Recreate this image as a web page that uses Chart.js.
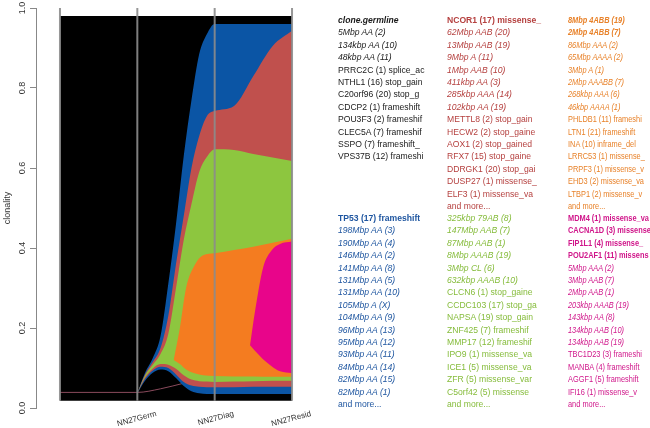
<!DOCTYPE html>
<html>
<head>
<meta charset="utf-8">
<script src="https://cdn.jsdelivr.net/npm/chart.js@4.4.1/dist/chart.umd.min.js"></script>
<style>
  html, body { margin: 0; padding: 0; background: #fff; }
  #wrap { position: relative; width: 650px; height: 428px; overflow: hidden; }
  #fish { position: absolute; left: 0; top: 0; }
  .col { position: absolute; font-family: "Liberation Sans", Arial, sans-serif; font-size: 8.6px; line-height: 12.4px; white-space: nowrap; transform-origin: left top; }
  .narrow { transform: scaleX(0.86); }
  .b { font-weight: bold; }
  .i { font-style: italic; }
</style>
</head>
<body>
<div id="wrap">
  <canvas id="fish" width="650" height="428"></canvas>
  <div id="legend"></div>
</div>
<script>
// sample time points
const timeTicks = [1, 2, 3];
const timeLabels = ["NN27Germ", "NN27Diag", "NN27Resid"];
const sampleLines = [0, 1, 2, 3];

// clone outlines, x in time units, y = clonality
const germX = [0, 3];
const germLow = [0.018, 0.018];
const germHigh = [0.98, 0.98];

const earlyX = [1, 1.1, 1.2, 1.3, 1.4, 1.5, 1.6, 1.7, 1.8, 1.9, 2, 2.25, 2.5, 2.75, 3];
const blueLow = [0.037, 0.068, 0.088, 0.096, 0.092, 0.075, 0.055, 0.042, 0.037, 0.035, 0.035, 0.035, 0.035, 0.035, 0.035];
const blueHigh = [0.037, 0.088, 0.125, 0.18, 0.31, 0.46, 0.63, 0.77, 0.885, 0.935, 0.96, 0.96, 0.96, 0.96, 0.96];
const redLow = [0.037, 0.073, 0.094, 0.103, 0.1, 0.084, 0.065, 0.056, 0.053, 0.052, 0.052, 0.052, 0.053, 0.053, 0.053];
const redHigh = [0.037, 0.084, 0.115, 0.15, 0.23, 0.36, 0.48, 0.6, 0.68, 0.73, 0.7425, 0.755, 0.83, 0.905, 0.943];
const greenLow = [0.037, 0.077, 0.099, 0.11, 0.108, 0.098, 0.082, 0.071, 0.067, 0.066, 0.065, 0.066, 0.067, 0.068, 0.068];
const greenHigh = [0.037, 0.081, 0.108, 0.135, 0.185, 0.3, 0.42, 0.51, 0.59, 0.628, 0.647, 0.645, 0.635, 0.626, 0.6175];

const orangeX = [1.47, 1.55, 1.63, 1.75, 1.85, 2, 2.25, 2.5, 2.75, 3];
const orangeLow = [0.12, 0.11, 0.096, 0.086, 0.082, 0.08, 0.079, 0.079, 0.078, 0.078];
const orangeHigh = [0.12, 0.2, 0.3, 0.36, 0.382, 0.387, 0.395, 0.403, 0.413, 0.423];

const pinkX = [2.457, 2.52, 2.625, 2.74, 2.845, 3];
const pinkLow = [0.157, 0.143, 0.122, 0.104, 0.092, 0.087];
const pinkHigh = [0.157, 0.24, 0.35, 0.395, 0.41, 0.416];

// thin trace under the founding clone
const traceX = [0, 1, 1.3, 1.6];
const traceY = [0.039, 0.039, 0.048, 0.062];

const cloneColors = {
  germ: "#000000", blue: "#0b55a5", red: "#c0504d",
  green: "#8dc63f", orange: "#f47c20", pink: "#e8058a"
};

// legend text: [text, style] with style b = bold, i = italic
const legendGerm = [["clone.germline", "bi"], ["5Mbp AA (2)", "i"], ["134kbp AA (10)", "i"], ["48kbp AA (11)", "i"],
  ["PRRC2C (1) splice_ac", ""], ["NTHL1 (16) stop_gain", ""], ["C20orf96 (20) stop_g", ""], ["CDCP2 (1) frameshift", ""],
  ["POU3F3 (2) frameshif", ""], ["CLEC5A (7) frameshif", ""], ["SSPO (7) frameshift_", ""], ["VPS37B (12) frameshi", ""]];
const legendRed = [["NCOR1 (17) missense_", "b"], ["62Mbp AAB (20)", "i"], ["13Mbp AAB (19)", "i"], ["9Mbp A (11)", "i"],
  ["1Mbp AAB (10)", "i"], ["411kbp AA (3)", "i"], ["285kbp AAA (14)", "i"], ["102kbp AA (19)", "i"],
  ["METTL8 (2) stop_gain", ""], ["HECW2 (2) stop_gaine", ""], ["AOX1 (2) stop_gained", ""], ["RFX7 (15) stop_gaine", ""],
  ["DDRGK1 (20) stop_gai", ""], ["DUSP27 (1) missense_", ""], ["ELF3 (1) missense_va", ""], ["and more...", ""]];
const legendOrange = [["8Mbp 4ABB (19)", "bi"], ["2Mbp 4ABB (7)", "bi"], ["86Mbp AAA (2)", "i"], ["65Mbp AAAA (2)", "i"],
  ["3Mbp A (1)", "i"], ["2Mbp AAABB (7)", "i"], ["268kbp AAA (6)", "i"], ["46kbp AAAA (1)", "i"],
  ["PHLDB1 (11) frameshi", ""], ["LTN1 (21) frameshift", ""], ["INA (10) inframe_del", ""], ["LRRC53 (1) missense_", ""],
  ["PRPF3 (1) missense_v", ""], ["EHD3 (2) missense_va", ""], ["LTBP1 (2) missense_v", ""], ["and more...", ""]];
const legendBlue = [["TP53 (17) frameshift", "b"], ["198Mbp AA (3)", "i"], ["190Mbp AA (4)", "i"], ["146Mbp AA (2)", "i"],
  ["141Mbp AA (8)", "i"], ["131Mbp AA (5)", "i"], ["131Mbp AA (10)", "i"], ["105Mbp A (X)", "i"], ["104Mbp AA (9)", "i"],
  ["96Mbp AA (13)", "i"], ["95Mbp AA (12)", "i"], ["93Mbp AA (11)", "i"], ["84Mbp AA (14)", "i"], ["82Mbp AA (15)", "i"],
  ["82Mbp AA (1)", "i"], ["and more...", ""]];
const legendGreen = [["325kbp 79AB (8)", "i"], ["147Mbp AAB (7)", "i"], ["87Mbp AAB (1)", "i"], ["8Mbp AAAB (19)", "i"],
  ["3Mbp CL (6)", "i"], ["632kbp AAAB (10)", "i"], ["CLCN6 (1) stop_gaine", ""], ["CCDC103 (17) stop_ga", ""],
  ["NAPSA (19) stop_gain", ""], ["ZNF425 (7) frameshif", ""], ["MMP17 (12) frameshif", ""], ["IPO9 (1) missense_va", ""],
  ["ICE1 (5) missense_va", ""], ["ZFR (5) missense_var", ""], ["C5orf42 (5) missense", ""], ["and more...", ""]];
const legendPink = [["MDM4 (1) missense_va", "b"], ["CACNA1D (3) missense", "b"], ["FIP1L1 (4) missense_", "b"],
  ["POU2AF1 (11) missens", "b"], ["5Mbp AAA (2)", "i"], ["3Mbp AAB (7)", "i"], ["2Mbp AAB (1)", "i"],
  ["203kbp AAAB (19)", "i"], ["143kbp AA (8)", "i"], ["134kbp AAB (10)", "i"], ["134kbp AAB (19)", "i"],
  ["TBC1D23 (3) frameshi", ""], ["MANBA (4) frameshift", ""], ["AGGF1 (5) frameshift", ""], ["IFI16 (1) missense_v", ""],
  ["and more...", ""]];

function pts(xs, ys) {
  return xs.map((x, i) => ({ x: x, y: ys[i] }));
}

const datasets = [];
function addBand(xs, lo, hi, color, order) {
  datasets.push({ data: pts(xs, lo), borderColor: "transparent", borderWidth: 0, pointRadius: 0,
    fill: false, order: order, cubicInterpolationMode: "monotone" });
  datasets.push({ data: pts(xs, hi), borderColor: "transparent", borderWidth: 0, pointRadius: 0,
    backgroundColor: color, fill: "-1", order: order, cubicInterpolationMode: "monotone" });
}

addBand(germX, germLow, germHigh, cloneColors.germ, 8);
datasets.push({ data: pts(traceX, traceY), borderColor: "#8a4a5c", borderWidth: 1, pointRadius: 0,
  fill: false, order: 7, cubicInterpolationMode: "monotone" });
addBand(earlyX, blueLow, blueHigh, cloneColors.blue, 6);
addBand(earlyX, redLow, redHigh, cloneColors.red, 5);
addBand(earlyX, greenLow, greenHigh, cloneColors.green, 4);
addBand(orangeX, orangeLow, orangeHigh, cloneColors.orange, 3);
addBand(pinkX, pinkLow, pinkHigh, cloneColors.pink, 2);

// gray lines at each sample
sampleLines.forEach(t => {
  datasets.push({ data: [{ x: t, y: germLow[0] }, { x: t, y: 1 }], borderColor: "rgba(140,140,140,0.9)",
    borderWidth: 2, pointRadius: 0, fill: false, order: 0 });
});

new Chart(document.getElementById("fish"), {
  type: "line",
  data: { datasets },
  options: {
    responsive: false,
    animation: false,
    layout: { padding: { top: 8, right: 334, bottom: 0, left: 0 } },
    plugins: { legend: { display: false }, tooltip: { enabled: false } },
    scales: {
      x: {
        type: "linear", min: -0.31, max: 3.31,
        grid: { display: false }, border: { display: false },
        afterBuildTicks: axis => { axis.ticks = timeTicks.map(v => ({ value: v })); },
        afterFit: axis => { axis.height = 20; },
        ticks: {
          autoSkip: false, minRotation: 15, maxRotation: 15, labelOffset: 19, padding: -7,
          color: "#333", font: { family: "Liberation Sans", size: 8 },
          callback: v => timeLabels[timeTicks.indexOf(v)]
        }
      },
      y: {
        min: 0, max: 1,
        afterFit: axis => { axis.width = 36; },
        grid: { drawOnChartArea: false, color: "#888", tickLength: 6 },
        border: { color: "#888", width: 1 },
        title: { display: true, text: "clonality", color: "#333", font: { family: "Liberation Sans", size: 9 }, padding: { top: 2, bottom: 0 } },
        ticks: {
          stepSize: 0.2, minRotation: 90, maxRotation: 90, crossAlign: "center", padding: 1,
          color: "#333", font: { family: "Liberation Sans", size: 9 },
          callback: v => v.toFixed(1)
        }
      }
    }
  }
});

// text legend beside the plot
function addColumn(items, color, left, top, narrow) {
  const div = document.createElement("div");
  div.className = narrow ? "col narrow" : "col";
  div.style.left = left + "px";
  div.style.top = top + "px";
  div.style.color = color;
  items.forEach(([text, style]) => {
    const line = document.createElement("div");
    if (style.includes("b")) line.classList.add("b");
    if (style.includes("i")) line.classList.add("i");
    line.textContent = text;
    div.appendChild(line);
  });
  document.getElementById("legend").appendChild(div);
}
addColumn(legendGerm, "#1a1a1a", 338, 14, false);
addColumn(legendRed, "#b5403f", 447, 14, false);
addColumn(legendOrange, "#e8822a", 568, 14, true);
addColumn(legendBlue, "#1f56a0", 338, 212, false);
addColumn(legendGreen, "#86bc3c", 447, 212, false);
addColumn(legendPink, "#d0168a", 568, 212, true);
</script>
</body>
</html>
